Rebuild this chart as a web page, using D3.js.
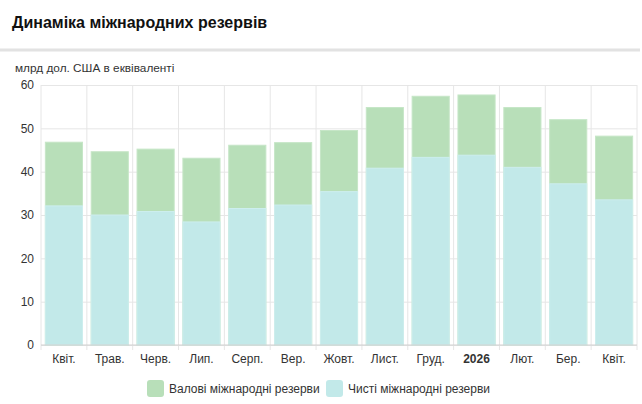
<!DOCTYPE html>
<html>
<head>
<meta charset="utf-8">
<script src="https://cdn.jsdelivr.net/npm/d3@7"></script>
<style>
  html, body { margin: 0; padding: 0; background: #fff; }
  svg { display: block; font-family: "Liberation Sans", Arial, sans-serif; }
</style>
</head>
<body>
<div id="chart"></div>
<script>
const months = ['Квіт.', 'Трав.', 'Черв.', 'Лип.', 'Серп.', 'Вер.', 'Жовт.', 'Лист.', 'Груд.', '2026', 'Лют.', 'Бер.', 'Квіт.'];
const monthKeys = months.map((m, i) => i + ':' + m);
const gross = [46.8, 44.6, 45.2, 43.1, 46.1, 46.7, 49.5, 54.8, 57.4, 57.7, 54.8, 52.0, 48.2];
const net = [32.1, 30.0, 30.8, 28.4, 31.5, 32.3, 35.4, 40.8, 43.3, 43.8, 41.0, 37.2, 33.5];
const yTicks = [0, 10, 20, 30, 40, 50, 60];

const C = { green: '#b8dfb9', cyan: '#c2e9e9', grid: '#e6e6e6', text: '#333' };
const W = 642, H = 404;
const M = { t: 85, r: 5, b: 59, l: 41 };

const svg = d3.select('#chart').append('svg')
  .attr('width', W)
  .attr('height', H)
  .attr('viewBox', `0 0 ${W} ${H}`);

// header
svg.append('text')
  .attr('x', 12).attr('y', 28)
  .attr('font-size', 16).attr('font-weight', 'bold').attr('fill', '#111')
  .text('Динаміка міжнародних резервів');
svg.append('line')
  .attr('x1', 0).attr('x2', 640).attr('y1', 50).attr('y2', 50)
  .attr('stroke', '#e2e2e2').attr('stroke-width', 3);
svg.append('text')
  .attr('x', 15).attr('y', 72)
  .attr('font-size', 11.8).attr('fill', C.text)
  .text('млрд дол. США в еквіваленті');

const x = d3.scaleBand()
  .domain(monthKeys)
  .range([M.l, W - M.r])
  .paddingInner(0.19)
  .paddingOuter(0.095);

const y = d3.scaleLinear()
  .domain([0, 60])
  .range([H - M.b, M.t]);

// horizontal grid
svg.append('g')
  .attr('transform', `translate(${M.l},0)`)
  .call(d3.axisLeft(y).tickValues(yTicks).tickSize(-(W - M.l - M.r)).tickFormat(''))
  .call(g => g.select('.domain').remove())
  .call(g => g.selectAll('line').attr('stroke', C.grid));

// vertical grid at category boundaries
const bounds = d3.range(monthKeys.length + 1).map(i => M.l + i * (W - M.l - M.r) / monthKeys.length);
svg.append('g').selectAll('line')
  .data(bounds)
  .enter().append('line')
  .attr('x1', d => d).attr('x2', d => d)
  .attr('y1', y(60)).attr('y2', y(0) + 5)
  .attr('stroke', C.grid);

// bars: gross behind, net in front
svg.append('g').selectAll('rect')
  .data(gross)
  .enter().append('rect')
  .attr('x', (d, i) => x(monthKeys[i]))
  .attr('y', d => y(d))
  .attr('width', x.bandwidth())
  .attr('height', d => y(0) - y(d))
  .attr('fill', C.green)
  .attr('stroke', '#c6e6c7').attr('stroke-width', 1);

svg.append('g').selectAll('rect')
  .data(net)
  .enter().append('rect')
  .attr('x', (d, i) => x(monthKeys[i]))
  .attr('y', d => y(d))
  .attr('width', x.bandwidth())
  .attr('height', d => y(0) - y(d))
  .attr('fill', C.cyan)
  .attr('stroke', '#cdeeee').attr('stroke-width', 1);

// baseline
svg.append('line')
  .attr('x1', M.l).attr('x2', W - M.r)
  .attr('y1', y(0)).attr('y2', y(0))
  .attr('stroke', '#d0d0d0');

// y axis labels
svg.append('g')
  .attr('transform', `translate(${M.l},0)`)
  .call(d3.axisLeft(y).tickValues(yTicks).tickSize(0).tickPadding(7))
  .call(g => g.select('.domain').remove())
  .call(g => g.selectAll('text').attr('font-size', 12).attr('fill', C.text).attr('font-family', null));

// x axis labels
svg.append('g')
  .attr('transform', `translate(0,${y(0)})`)
  .call(d3.axisBottom(x).tickSize(0).tickPadding(9).tickFormat(k => k.split(':')[1]))
  .call(g => g.select('.domain').remove())
  .call(g => g.selectAll('text')
    .attr('font-size', 12).attr('fill', C.text).attr('font-family', null)
    .attr('font-weight', d => d.endsWith('2026') ? 'bold' : null));

// legend
const legendItems = [['Валові міжнародні резерви', C.green, 147], ['Чисті міжнародні резерви', C.cyan, 326]];
const lg = svg.append('g');
legendItems.forEach(([label, color, lx]) => {
  lg.append('rect')
    .attr('x', lx).attr('y', 380).attr('width', 17).attr('height', 17)
    .attr('rx', 3).attr('fill', color);
  lg.append('text')
    .attr('x', lx + 22).attr('y', 393)
    .attr('font-size', 12).attr('fill', C.text)
    .text(label);
});
</script>
</body>
</html>
